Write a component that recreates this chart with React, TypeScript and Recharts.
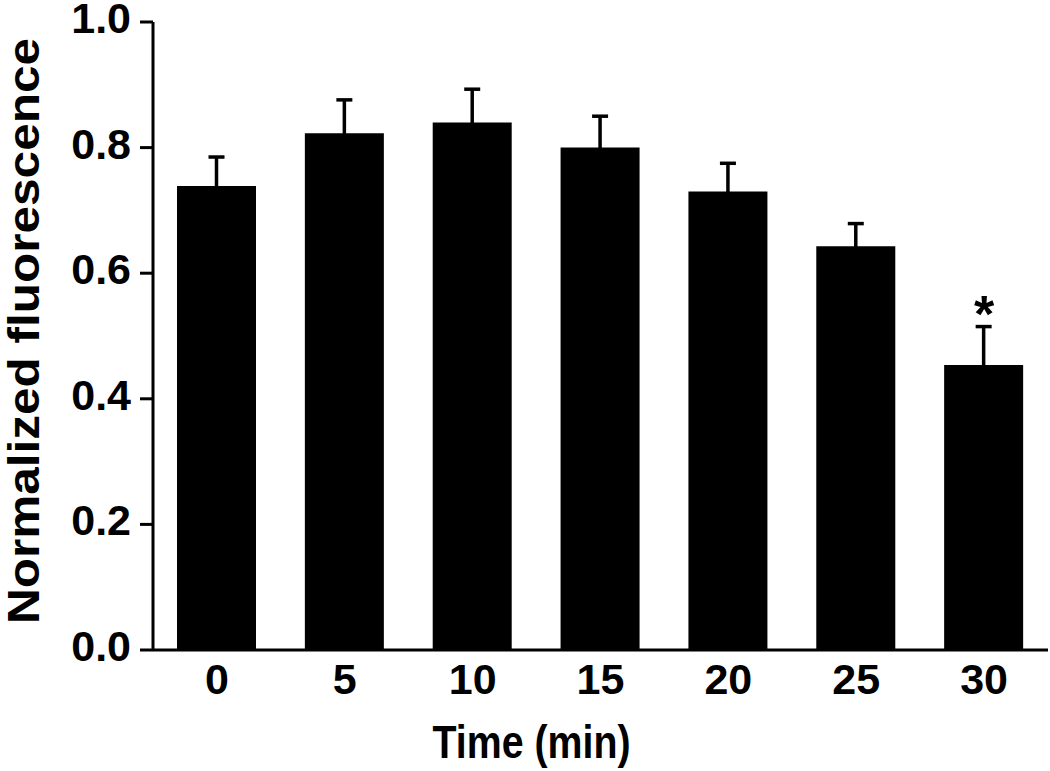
import React from 'react';
import { ComposedChart, Bar, Line, XAxis, YAxis, ErrorBar, Label } from 'recharts';

const categories = ['0', '5', '10', '15', '20', '25', '30'];
const means = [0.739, 0.823, 0.840, 0.800, 0.730, 0.643, 0.454];
const sems = [0.046, 0.053, 0.053, 0.050, 0.045, 0.036, 0.061];
const significant = [false, false, false, false, false, false, true];
const yTicks = [0, 0.2, 0.4, 0.6, 0.8, 1.0];
const xLabel = 'Time (min)';
const yLabel = 'Normalized fluorescence';

const data = categories.map((c, i) => ({
  time: c,
  mean: means[i],
  err: sems[i],
  star: significant[i] ? means[i] + sems[i] : null,
}));

const FONT = "'Liberation Sans', Arial, Helvetica, sans-serif";

const YTick = (props: any) => {
  const { x, y, payload } = props;
  return (
    <text x={x} y={y + 11} textAnchor="end" fontFamily={FONT} fontWeight="bold" fontSize={43} fill="#000">
      {Number(payload.value).toFixed(1)}
    </text>
  );
};

const XTick = (props: any) => {
  const { x, y, payload } = props;
  return (
    <text x={x} y={y + 44} textAnchor="middle" fontFamily={FONT} fontWeight="bold" fontSize={43} fill="#000">
      {payload.value}
    </text>
  );
};

const XLabelContent = (props: any) => {
  const vb = props.viewBox || {};
  const cx = vb.x + vb.width / 2 - 69;
  return (
    <text x={cx} y={vb.y + 108} textAnchor="middle" fontFamily={FONT} fontWeight="bold" fontSize={46} fill="#000" textLength={198} lengthAdjust="spacingAndGlyphs">
      {xLabel}
    </text>
  );
};

const YLabelContent = (props: any) => {
  const vb = props.viewBox || {};
  const x = vb.x + 39;
  const y = vb.y + vb.height / 2 - 5;
  return (
    <text x={x} y={y} transform={`rotate(-90, ${x}, ${y})`} textAnchor="middle" fontFamily={FONT} fontWeight="bold" fontSize={44} fill="#000" textLength={586} lengthAdjust="spacingAndGlyphs">
      {yLabel}
    </text>
  );
};

const StarDot = (props: any) => {
  const { cx, cy, value, index } = props;
  if (value == null || cy == null || isNaN(cy)) return <g key={`s-${index}`} />;
  return (
    <text key={`s-${index}`} x={cx} y={cy + 5} textAnchor="middle" fontFamily={FONT} fontWeight="bold" fontSize={52} fill="#000">
      *
    </text>
  );
};

export default function App() {
  return (
    <div style={{ position: 'absolute', left: 0, top: 0, width: 1050, height: 771, background: '#fff' }}>
      <ComposedChart width={1050} height={771} data={data} margin={{ top: 22, right: 2, bottom: 0, left: 0 }}>
        <XAxis
          dataKey="time"
          height={121}
          axisLine={{ stroke: '#000', strokeWidth: 3 }}
          tickLine={false}
          tickSize={0}
          tickMargin={0}
          tick={<XTick />}
          interval={0}
        >
          <Label content={<XLabelContent />} />
        </XAxis>
        <YAxis
          type="number"
          width={153}
          domain={[0, 1]}
          ticks={yTicks}
          interval={0}
          axisLine={{ stroke: '#000', strokeWidth: 3 }}
          tickLine={{ stroke: '#000', strokeWidth: 3 }}
          tickSize={13}
          tickMargin={9}
          tick={<YTick />}
        >
          <Label content={<YLabelContent />} />
        </YAxis>
        <Bar dataKey="mean" fill="#000" barSize={79} isAnimationActive={false}>
          <ErrorBar dataKey="err" direction="y" width={8} strokeWidth={3.5} stroke="#000" />
        </Bar>
        <Line dataKey="star" stroke="none" dot={<StarDot />} activeDot={false} isAnimationActive={false} legendType="none" />
      </ComposedChart>
    </div>
  );
}
